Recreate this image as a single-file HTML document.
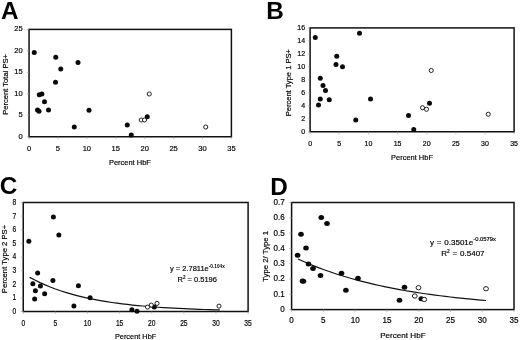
<!DOCTYPE html>
<html lang="en">
<head>
<meta charset="utf-8">
<title>Figure: PS+ cells versus Percent HbF</title>
<style>
html,body{margin:0;padding:0;background:#fff;}
body{width:520px;height:340px;overflow:hidden;}
svg{display:block;will-change:transform;}
text{font-family:"Liberation Sans",Arial,Helvetica,sans-serif;fill:#000;}
.pl{font-weight:bold;font-size:24.3px;fill:#000;}
.t{font-size:7.6px;stroke:#000;stroke-width:0.18px;}
.ax{stroke:#111;stroke-width:1.5;fill:none;stroke-linejoin:miter;}
.tk{stroke:#999;stroke-width:0.7;}
.f{fill:#0a0a0a;}
.o{fill:#fff;stroke:#161616;stroke-width:0.95;}
.cv{fill:none;stroke:#111;stroke-width:1.2;}
</style>
</head>
<body>
<svg width="520" height="340" viewBox="0 0 520 340">
<rect x="0" y="0" width="520" height="340" fill="#fff"/>

<g id="panel-a">
<text class="pl" x="0.9" y="19">A</text>
<rect class="ax" x="29.05" y="29.4" width="202.35" height="107.35"/>
<line class="tk" x1="29.05" y1="136.75" x2="29.05" y2="138.95"/>
<text class="t" style="font-size:7.8px" text-anchor="middle" transform="translate(29.05 151.00) scale(0.97 1)">0</text>
<line class="tk" x1="57.96" y1="136.75" x2="57.96" y2="138.95"/>
<text class="t" style="font-size:7.8px" text-anchor="middle" transform="translate(57.96 151.00) scale(0.97 1)">5</text>
<line class="tk" x1="86.86" y1="136.75" x2="86.86" y2="138.95"/>
<text class="t" style="font-size:7.8px" text-anchor="middle" transform="translate(86.86 151.00) scale(0.97 1)">10</text>
<line class="tk" x1="115.77" y1="136.75" x2="115.77" y2="138.95"/>
<text class="t" style="font-size:7.8px" text-anchor="middle" transform="translate(115.77 151.00) scale(0.97 1)">15</text>
<line class="tk" x1="144.68" y1="136.75" x2="144.68" y2="138.95"/>
<text class="t" style="font-size:7.8px" text-anchor="middle" transform="translate(144.68 151.00) scale(0.97 1)">20</text>
<line class="tk" x1="173.59" y1="136.75" x2="173.59" y2="138.95"/>
<text class="t" style="font-size:7.8px" text-anchor="middle" transform="translate(173.59 151.00) scale(0.97 1)">25</text>
<line class="tk" x1="202.49" y1="136.75" x2="202.49" y2="138.95"/>
<text class="t" style="font-size:7.8px" text-anchor="middle" transform="translate(202.49 151.00) scale(0.97 1)">30</text>
<line class="tk" x1="231.40" y1="136.75" x2="231.40" y2="138.95"/>
<text class="t" style="font-size:7.8px" text-anchor="middle" transform="translate(231.40 151.00) scale(0.97 1)">35</text>
<line class="tk" x1="26.85" y1="136.75" x2="29.05" y2="136.75"/>
<text class="t" style="font-size:7.8px" text-anchor="end" transform="translate(22.65 139.00) scale(0.97 1)">0</text>
<line class="tk" x1="26.85" y1="115.28" x2="29.05" y2="115.28"/>
<text class="t" style="font-size:7.8px" text-anchor="end" transform="translate(22.65 117.00) scale(0.97 1)">5</text>
<line class="tk" x1="26.85" y1="93.81" x2="29.05" y2="93.81"/>
<text class="t" style="font-size:7.8px" text-anchor="end" transform="translate(22.65 96.00) scale(0.97 1)">10</text>
<line class="tk" x1="26.85" y1="72.34" x2="29.05" y2="72.34"/>
<text class="t" style="font-size:7.8px" text-anchor="end" transform="translate(22.65 74.00) scale(0.97 1)">15</text>
<line class="tk" x1="26.85" y1="50.87" x2="29.05" y2="50.87"/>
<text class="t" style="font-size:7.8px" text-anchor="end" transform="translate(22.65 53.00) scale(0.97 1)">20</text>
<line class="tk" x1="26.85" y1="29.40" x2="29.05" y2="29.40"/>
<text class="t" style="font-size:7.8px" text-anchor="end" transform="translate(22.65 31.00) scale(0.97 1)">25</text>
<text class="t" style="font-size:7.6px" text-anchor="middle" transform="translate(7.80 84.40) rotate(-90)">Percent Total PS+</text>
<text class="t" style="font-size:7.9px" text-anchor="middle" transform="translate(129.90 165.00) scale(0.95 1)">Percent HbF</text>
<ellipse class="f" cx="34.25" cy="52.5" rx="2.50" ry="2.50"/>
<ellipse class="f" cx="55.75" cy="57.25" rx="2.50" ry="2.50"/>
<ellipse class="f" cx="78" cy="62.5" rx="2.50" ry="2.50"/>
<ellipse class="f" cx="60.75" cy="69" rx="2.50" ry="2.50"/>
<ellipse class="f" cx="55.5" cy="82.25" rx="2.50" ry="2.50"/>
<ellipse class="f" cx="39.25" cy="94.75" rx="2.50" ry="2.50"/>
<ellipse class="f" cx="41.9" cy="94.0" rx="2.50" ry="2.50"/>
<ellipse class="f" cx="44.5" cy="101.75" rx="2.50" ry="2.50"/>
<ellipse class="f" cx="37.5" cy="110" rx="2.50" ry="2.50"/>
<ellipse class="f" cx="39" cy="111.25" rx="2.50" ry="2.50"/>
<ellipse class="f" cx="48.5" cy="110" rx="2.50" ry="2.50"/>
<ellipse class="f" cx="89" cy="110.25" rx="2.50" ry="2.50"/>
<ellipse class="f" cx="74.25" cy="127" rx="2.50" ry="2.50"/>
<ellipse class="f" cx="127.25" cy="125" rx="2.50" ry="2.50"/>
<ellipse class="f" cx="131.25" cy="135" rx="2.50" ry="2.50"/>
<ellipse class="f" cx="147.25" cy="116.75" rx="2.50" ry="2.50"/>
<ellipse class="o" cx="141.25" cy="120" rx="2.05" ry="2.05"/>
<ellipse class="o" cx="144.5" cy="120" rx="2.05" ry="2.05"/>
<ellipse class="o" cx="149.25" cy="94" rx="2.05" ry="2.05"/>
<ellipse class="o" cx="205.75" cy="127" rx="2.05" ry="2.05"/>
</g>
<g id="panel-b">
<text class="pl" x="266.2" y="19">B</text>
<rect class="ax" x="310.1" y="27.9" width="204.00" height="103.85"/>
<line class="tk" x1="310.10" y1="131.75" x2="310.10" y2="133.95"/>
<text class="t" style="font-size:7.0px" text-anchor="middle" transform="translate(310.10 146.00)">0</text>
<line class="tk" x1="339.24" y1="131.75" x2="339.24" y2="133.95"/>
<text class="t" style="font-size:7.0px" text-anchor="middle" transform="translate(339.24 146.00)">5</text>
<line class="tk" x1="368.39" y1="131.75" x2="368.39" y2="133.95"/>
<text class="t" style="font-size:7.0px" text-anchor="middle" transform="translate(368.39 146.00)">10</text>
<line class="tk" x1="397.53" y1="131.75" x2="397.53" y2="133.95"/>
<text class="t" style="font-size:7.0px" text-anchor="middle" transform="translate(397.53 146.00)">15</text>
<line class="tk" x1="426.67" y1="131.75" x2="426.67" y2="133.95"/>
<text class="t" style="font-size:7.0px" text-anchor="middle" transform="translate(426.67 146.00)">20</text>
<line class="tk" x1="455.81" y1="131.75" x2="455.81" y2="133.95"/>
<text class="t" style="font-size:7.0px" text-anchor="middle" transform="translate(455.81 146.00)">25</text>
<line class="tk" x1="484.96" y1="131.75" x2="484.96" y2="133.95"/>
<text class="t" style="font-size:7.0px" text-anchor="middle" transform="translate(484.96 146.00)">30</text>
<line class="tk" x1="514.10" y1="131.75" x2="514.10" y2="133.95"/>
<text class="t" style="font-size:7.0px" text-anchor="middle" transform="translate(514.10 146.00)">35</text>
<line class="tk" x1="307.90000000000003" y1="131.75" x2="310.1" y2="131.75"/>
<text class="t" style="font-size:7.0px" text-anchor="end" transform="translate(305.10 134.00)">0</text>
<line class="tk" x1="307.90000000000003" y1="118.77" x2="310.1" y2="118.77"/>
<text class="t" style="font-size:7.0px" text-anchor="end" transform="translate(305.10 121.00)">2</text>
<line class="tk" x1="307.90000000000003" y1="105.79" x2="310.1" y2="105.79"/>
<text class="t" style="font-size:7.0px" text-anchor="end" transform="translate(305.10 108.00)">4</text>
<line class="tk" x1="307.90000000000003" y1="92.81" x2="310.1" y2="92.81"/>
<text class="t" style="font-size:7.0px" text-anchor="end" transform="translate(305.10 95.00)">6</text>
<line class="tk" x1="307.90000000000003" y1="79.83" x2="310.1" y2="79.83"/>
<text class="t" style="font-size:7.0px" text-anchor="end" transform="translate(305.10 82.00)">8</text>
<line class="tk" x1="307.90000000000003" y1="66.84" x2="310.1" y2="66.84"/>
<text class="t" style="font-size:7.0px" text-anchor="end" transform="translate(305.10 69.00)">10</text>
<line class="tk" x1="307.90000000000003" y1="53.86" x2="310.1" y2="53.86"/>
<text class="t" style="font-size:7.0px" text-anchor="end" transform="translate(305.10 56.00)">12</text>
<line class="tk" x1="307.90000000000003" y1="40.88" x2="310.1" y2="40.88"/>
<text class="t" style="font-size:7.0px" text-anchor="end" transform="translate(305.10 43.00)">14</text>
<line class="tk" x1="307.90000000000003" y1="27.90" x2="310.1" y2="27.90"/>
<text class="t" style="font-size:7.0px" text-anchor="end" transform="translate(305.10 30.00)">16</text>
<text class="t" style="font-size:7.55px" text-anchor="middle" transform="translate(291.00 82.70) rotate(-90)">Percent Type 1 PS+</text>
<text class="t" style="font-size:7.9px" text-anchor="middle" transform="translate(412.00 160.00) scale(0.95 1)">Percent HbF</text>
<ellipse class="f" cx="315.25" cy="37.5" rx="2.50" ry="2.50"/>
<ellipse class="f" cx="359.5" cy="33.25" rx="2.50" ry="2.50"/>
<ellipse class="f" cx="336.75" cy="56.2" rx="2.50" ry="2.50"/>
<ellipse class="f" cx="336" cy="64.5" rx="2.50" ry="2.50"/>
<ellipse class="f" cx="342.5" cy="66.75" rx="2.50" ry="2.50"/>
<ellipse class="f" cx="320.25" cy="78.25" rx="2.50" ry="2.50"/>
<ellipse class="f" cx="323" cy="85.5" rx="2.50" ry="2.50"/>
<ellipse class="f" cx="325.5" cy="90.5" rx="2.50" ry="2.50"/>
<ellipse class="f" cx="320.25" cy="99" rx="2.50" ry="2.50"/>
<ellipse class="f" cx="329.25" cy="99.75" rx="2.50" ry="2.50"/>
<ellipse class="f" cx="318.5" cy="105" rx="2.50" ry="2.50"/>
<ellipse class="f" cx="370.5" cy="99" rx="2.50" ry="2.50"/>
<ellipse class="f" cx="355.75" cy="120" rx="2.50" ry="2.50"/>
<ellipse class="f" cx="408.5" cy="115.5" rx="2.50" ry="2.50"/>
<ellipse class="f" cx="413.75" cy="129.5" rx="2.50" ry="2.50"/>
<ellipse class="f" cx="429.5" cy="103.25" rx="2.50" ry="2.50"/>
<ellipse class="o" cx="422.5" cy="107.75" rx="2.05" ry="2.05"/>
<ellipse class="o" cx="426.5" cy="109.25" rx="2.05" ry="2.05"/>
<ellipse class="o" cx="431.25" cy="70.5" rx="2.05" ry="2.05"/>
<ellipse class="o" cx="488.25" cy="114.25" rx="2.05" ry="2.05"/>
</g>
<g id="panel-c">
<text class="pl" x="-0.2" y="194">C</text>
<rect class="ax" x="23.25" y="202.5" width="224.85" height="109.00"/>
<line class="tk" x1="23.25" y1="311.5" x2="23.25" y2="313.7"/>
<text class="t" style="font-size:8.2px" text-anchor="middle" transform="translate(23.25 326.00) scale(0.82 1)">0</text>
<line class="tk" x1="55.37" y1="311.5" x2="55.37" y2="313.7"/>
<text class="t" style="font-size:8.2px" text-anchor="middle" transform="translate(55.37 326.00) scale(0.82 1)">5</text>
<line class="tk" x1="87.49" y1="311.5" x2="87.49" y2="313.7"/>
<text class="t" style="font-size:8.2px" text-anchor="middle" transform="translate(87.49 326.00) scale(0.82 1)">10</text>
<line class="tk" x1="119.61" y1="311.5" x2="119.61" y2="313.7"/>
<text class="t" style="font-size:8.2px" text-anchor="middle" transform="translate(119.61 326.00) scale(0.82 1)">15</text>
<line class="tk" x1="151.74" y1="311.5" x2="151.74" y2="313.7"/>
<text class="t" style="font-size:8.2px" text-anchor="middle" transform="translate(151.74 326.00) scale(0.82 1)">20</text>
<line class="tk" x1="183.86" y1="311.5" x2="183.86" y2="313.7"/>
<text class="t" style="font-size:8.2px" text-anchor="middle" transform="translate(183.86 326.00) scale(0.82 1)">25</text>
<line class="tk" x1="215.98" y1="311.5" x2="215.98" y2="313.7"/>
<text class="t" style="font-size:8.2px" text-anchor="middle" transform="translate(215.98 326.00) scale(0.82 1)">30</text>
<line class="tk" x1="248.10" y1="311.5" x2="248.10" y2="313.7"/>
<text class="t" style="font-size:8.2px" text-anchor="middle" transform="translate(248.10 326.00) scale(0.82 1)">35</text>
<line class="tk" x1="21.05" y1="311.50" x2="23.25" y2="311.50"/>
<text class="t" style="font-size:8.2px" text-anchor="end" transform="translate(16.35 314.00) scale(0.82 1)">0</text>
<line class="tk" x1="21.05" y1="297.88" x2="23.25" y2="297.88"/>
<text class="t" style="font-size:8.2px" text-anchor="end" transform="translate(16.35 300.00) scale(0.82 1)">1</text>
<line class="tk" x1="21.05" y1="284.25" x2="23.25" y2="284.25"/>
<text class="t" style="font-size:8.2px" text-anchor="end" transform="translate(16.35 287.00) scale(0.82 1)">2</text>
<line class="tk" x1="21.05" y1="270.62" x2="23.25" y2="270.62"/>
<text class="t" style="font-size:8.2px" text-anchor="end" transform="translate(16.35 273.00) scale(0.82 1)">3</text>
<line class="tk" x1="21.05" y1="257.00" x2="23.25" y2="257.00"/>
<text class="t" style="font-size:8.2px" text-anchor="end" transform="translate(16.35 259.00) scale(0.82 1)">4</text>
<line class="tk" x1="21.05" y1="243.38" x2="23.25" y2="243.38"/>
<text class="t" style="font-size:8.2px" text-anchor="end" transform="translate(16.35 246.00) scale(0.82 1)">5</text>
<line class="tk" x1="21.05" y1="229.75" x2="23.25" y2="229.75"/>
<text class="t" style="font-size:8.2px" text-anchor="end" transform="translate(16.35 232.00) scale(0.82 1)">6</text>
<line class="tk" x1="21.05" y1="216.12" x2="23.25" y2="216.12"/>
<text class="t" style="font-size:8.2px" text-anchor="end" transform="translate(16.35 219.00) scale(0.82 1)">7</text>
<line class="tk" x1="21.05" y1="202.50" x2="23.25" y2="202.50"/>
<text class="t" style="font-size:8.2px" text-anchor="end" transform="translate(16.35 205.00) scale(0.82 1)">8</text>
<text class="t" style="font-size:7.7px" text-anchor="middle" transform="translate(6.70 259.00) rotate(-90)">Percent Type 2 PS+</text>
<text class="t" style="font-size:8.0px" text-anchor="middle" transform="translate(135.60 339.00) scale(0.925 1)">Percent HbF</text>
<path class="cv" d="M29.67 277.35 L34.81 280.08 L39.95 282.59 L45.09 284.89 L50.23 287.02 L55.37 288.97 L60.51 290.77 L65.65 292.43 L70.79 293.95 L75.93 295.35 L81.07 296.64 L86.21 297.83 L91.35 298.92 L96.49 299.92 L101.63 300.85 L106.77 301.70 L111.91 302.48 L117.04 303.20 L122.18 303.86 L127.32 304.47 L132.46 305.03 L137.60 305.55 L142.74 306.02 L147.88 306.46 L153.02 306.86 L158.16 307.23 L163.30 307.57 L168.44 307.89 L173.58 308.18 L178.72 308.44 L183.86 308.69 L189.00 308.91 L194.14 309.12 L199.28 309.31 L204.41 309.48 L209.55 309.64 L214.69 309.79 L219.83 309.93 L219.83 309.93"/>
<ellipse class="f" cx="53.4" cy="216.9" rx="2.50" ry="2.50"/>
<ellipse class="f" cx="58.85" cy="234.9" rx="2.50" ry="2.50"/>
<ellipse class="f" cx="28.85" cy="241.2" rx="2.50" ry="2.50"/>
<ellipse class="f" cx="37.65" cy="273" rx="2.50" ry="2.50"/>
<ellipse class="f" cx="32.85" cy="283.75" rx="2.50" ry="2.50"/>
<ellipse class="f" cx="40.4" cy="286" rx="2.50" ry="2.50"/>
<ellipse class="f" cx="35.4" cy="290.75" rx="2.50" ry="2.50"/>
<ellipse class="f" cx="34.65" cy="299" rx="2.50" ry="2.50"/>
<ellipse class="f" cx="44.65" cy="293.75" rx="2.50" ry="2.50"/>
<ellipse class="f" cx="52.9" cy="280.5" rx="2.50" ry="2.50"/>
<ellipse class="f" cx="78.4" cy="285.7" rx="2.50" ry="2.50"/>
<ellipse class="f" cx="73.9" cy="306" rx="2.50" ry="2.50"/>
<ellipse class="f" cx="90.1" cy="297.7" rx="2.50" ry="2.50"/>
<ellipse class="f" cx="131.9" cy="309.7" rx="2.50" ry="2.50"/>
<ellipse class="f" cx="137" cy="311.2" rx="2.50" ry="2.50"/>
<ellipse class="f" cx="154.25" cy="306.9" rx="2.50" ry="2.50"/>
<ellipse class="o" cx="147.5" cy="307.1" rx="2.05" ry="2.05"/>
<ellipse class="o" cx="151.25" cy="305.1" rx="2.05" ry="2.05"/>
<ellipse class="o" cx="157" cy="303.4" rx="2.05" ry="2.05"/>
<ellipse class="o" cx="219" cy="306.1" rx="2.05" ry="2.05"/>
<text class="t" style="font-size:7.9px" transform="translate(170 271) scale(0.95 1)">y = 2.7811e<tspan dy="-3" style="font-size:5px;font-weight:bold;stroke:none">-0.104x</tspan></text>
<text class="t" style="font-size:7.9px" transform="translate(177.5 282) scale(0.95 1)">R<tspan dy="-2.6" style="font-size:4.8px">2</tspan><tspan dy="2.6"> = 0.5196</tspan></text>
</g>
<g id="panel-d">
<text class="pl" x="270.2" y="195">D</text>
<rect class="ax" x="291.6" y="202.5" width="222.40" height="107.10"/>
<line class="tk" x1="291.60" y1="309.6" x2="291.60" y2="311.8"/>
<text class="t" style="font-size:8.3px" text-anchor="middle" transform="translate(291.60 323.00) scale(0.975 1)">0</text>
<line class="tk" x1="323.37" y1="309.6" x2="323.37" y2="311.8"/>
<text class="t" style="font-size:8.3px" text-anchor="middle" transform="translate(323.37 323.00) scale(0.975 1)">5</text>
<line class="tk" x1="355.14" y1="309.6" x2="355.14" y2="311.8"/>
<text class="t" style="font-size:8.3px" text-anchor="middle" transform="translate(355.14 323.00) scale(0.975 1)">10</text>
<line class="tk" x1="386.91" y1="309.6" x2="386.91" y2="311.8"/>
<text class="t" style="font-size:8.3px" text-anchor="middle" transform="translate(386.91 323.00) scale(0.975 1)">15</text>
<line class="tk" x1="418.69" y1="309.6" x2="418.69" y2="311.8"/>
<text class="t" style="font-size:8.3px" text-anchor="middle" transform="translate(418.69 323.00) scale(0.975 1)">20</text>
<line class="tk" x1="450.46" y1="309.6" x2="450.46" y2="311.8"/>
<text class="t" style="font-size:8.3px" text-anchor="middle" transform="translate(450.46 323.00) scale(0.975 1)">25</text>
<line class="tk" x1="482.23" y1="309.6" x2="482.23" y2="311.8"/>
<text class="t" style="font-size:8.3px" text-anchor="middle" transform="translate(482.23 323.00) scale(0.975 1)">30</text>
<line class="tk" x1="514.00" y1="309.6" x2="514.00" y2="311.8"/>
<text class="t" style="font-size:8.3px" text-anchor="middle" transform="translate(514.00 323.00) scale(0.975 1)">35</text>
<line class="tk" x1="289.40000000000003" y1="309.60" x2="291.6" y2="309.60"/>
<text class="t" style="font-size:8.3px" text-anchor="end" transform="translate(284.80 312.00) scale(0.975 1)">0</text>
<line class="tk" x1="289.40000000000003" y1="294.30" x2="291.6" y2="294.30"/>
<text class="t" style="font-size:8.3px" text-anchor="end" transform="translate(284.80 297.00) scale(0.975 1)">0.1</text>
<line class="tk" x1="289.40000000000003" y1="279.00" x2="291.6" y2="279.00"/>
<text class="t" style="font-size:8.3px" text-anchor="end" transform="translate(284.80 281.00) scale(0.975 1)">0.2</text>
<line class="tk" x1="289.40000000000003" y1="263.70" x2="291.6" y2="263.70"/>
<text class="t" style="font-size:8.3px" text-anchor="end" transform="translate(284.80 266.00) scale(0.975 1)">0.3</text>
<line class="tk" x1="289.40000000000003" y1="248.40" x2="291.6" y2="248.40"/>
<text class="t" style="font-size:8.3px" text-anchor="end" transform="translate(284.80 251.00) scale(0.975 1)">0.4</text>
<line class="tk" x1="289.40000000000003" y1="233.10" x2="291.6" y2="233.10"/>
<text class="t" style="font-size:8.3px" text-anchor="end" transform="translate(284.80 236.00) scale(0.975 1)">0.5</text>
<line class="tk" x1="289.40000000000003" y1="217.80" x2="291.6" y2="217.80"/>
<text class="t" style="font-size:8.3px" text-anchor="end" transform="translate(284.80 220.00) scale(0.975 1)">0.6</text>
<line class="tk" x1="289.40000000000003" y1="202.50" x2="291.6" y2="202.50"/>
<text class="t" style="font-size:8.3px" text-anchor="end" transform="translate(284.80 205.00) scale(0.975 1)">0.7</text>
<text class="t" style="font-size:7.8px" text-anchor="middle" transform="translate(267.70 256.30) rotate(-90)">Type 2/ Type 1</text>
<text class="t" style="font-size:8.1px" text-anchor="middle" transform="translate(402.90 338.00)">Percent HbF</text>
<path class="cv" style="stroke-width:1.15" d="M297.95 259.05 L303.04 261.34 L308.12 263.52 L313.20 265.61 L318.29 267.60 L323.37 269.50 L328.45 271.31 L333.54 273.05 L338.62 274.70 L343.71 276.28 L348.79 277.79 L353.87 279.23 L358.96 280.60 L364.04 281.92 L369.12 283.17 L374.21 284.37 L379.29 285.51 L384.37 286.60 L389.46 287.64 L394.54 288.63 L399.62 289.58 L404.71 290.49 L409.79 291.35 L414.87 292.18 L419.96 292.97 L425.04 293.72 L430.12 294.44 L435.21 295.13 L440.29 295.78 L445.37 296.41 L450.46 297.00 L455.54 297.57 L460.62 298.12 L465.71 298.64 L470.79 299.13 L475.87 299.61 L480.96 300.06 L486.04 300.49 L486.04 300.49"/>
<ellipse class="f" cx="321.25" cy="217.5" rx="2.82" ry="2.50"/>
<ellipse class="f" cx="327" cy="223.5" rx="2.82" ry="2.50"/>
<ellipse class="f" cx="301" cy="234.25" rx="2.82" ry="2.50"/>
<ellipse class="f" cx="306" cy="248" rx="2.82" ry="2.50"/>
<ellipse class="f" cx="297.6" cy="255.2" rx="2.82" ry="2.50"/>
<ellipse class="f" cx="308.5" cy="264" rx="2.82" ry="2.50"/>
<ellipse class="f" cx="313" cy="268.4" rx="2.82" ry="2.50"/>
<ellipse class="f" cx="320.5" cy="275.5" rx="2.82" ry="2.50"/>
<ellipse class="f" cx="302.5" cy="281.1" rx="2.82" ry="2.50"/>
<ellipse class="f" cx="303.4" cy="281.3" rx="2.82" ry="2.50"/>
<ellipse class="f" cx="341.5" cy="273.3" rx="2.82" ry="2.50"/>
<ellipse class="f" cx="345.9" cy="290.3" rx="2.82" ry="2.50"/>
<ellipse class="f" cx="358" cy="278.25" rx="2.82" ry="2.50"/>
<ellipse class="f" cx="404.5" cy="287.25" rx="2.82" ry="2.50"/>
<ellipse class="f" cx="399.5" cy="300.25" rx="2.82" ry="2.50"/>
<ellipse class="f" cx="421.25" cy="298.75" rx="2.82" ry="2.50"/>
<ellipse class="o" cx="418.5" cy="287.75" rx="2.43" ry="2.15"/>
<ellipse class="o" cx="414.75" cy="296" rx="2.43" ry="2.15"/>
<ellipse class="o" cx="424.25" cy="299.5" rx="2.43" ry="2.15"/>
<ellipse class="o" cx="486" cy="288.75" rx="2.43" ry="2.15"/>
<text class="t" style="font-size:8px;word-spacing:0.6px" x="430" y="245">y = 0.3501e<tspan dy="-3.8" style="font-size:5.8px;word-spacing:0">-0.0579x</tspan></text>
<text class="t" style="font-size:8px;word-spacing:0.6px" x="441.3" y="256">R<tspan dy="-2.8" style="font-size:4.8px">2</tspan><tspan dy="2.8"> = 0.5407</tspan></text>
</g>
</svg>
</body>
</html>
